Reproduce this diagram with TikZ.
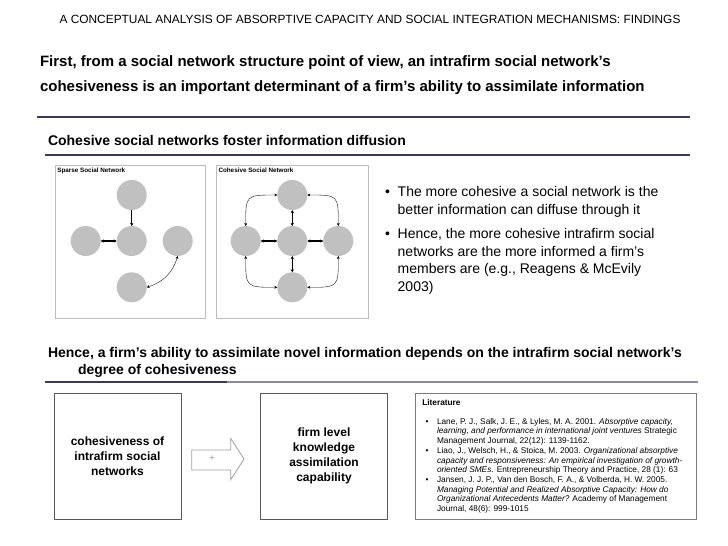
\documentclass[tikz,border=0pt]{standalone}
\usepackage{fontspec}
\setmainfont{Liberation Sans}
\usetikzlibrary{arrows.meta}
\definecolor{navy}{HTML}{3A3A5C}
\definecolor{navylight}{HTML}{8C8CA4}
\definecolor{circgray}{HTML}{C0C0C0}
\definecolor{panelgray}{HTML}{BDBDBD}
\definecolor{boxgray}{HTML}{5A5A5A}
\definecolor{litgray}{HTML}{7A7A7A}
\definecolor{arrgray}{HTML}{A0A0A0}
\newcommand{\myfs}[2]{\fontsize{#1}{#2}\selectfont}
\begin{document}
\begin{tikzpicture}[x=1pt,y=-1pt,
  every node/.style={inner sep=0pt, outer sep=0pt},
  txt/.style={anchor=base west},
  circ/.style={circle, fill=circgray, minimum size=30pt},
  panel/.style={draw=panelgray, line width=0.8pt},
  thickarr/.style={line width=1.1pt, {Stealth[length=3pt,width=3.2pt]}-{Stealth[length=3pt,width=3.2pt]}},
  thickone/.style={line width=1.1pt, -{Stealth[length=3pt,width=3.2pt]}},
  thinarr/.style={line width=0.35pt, {Stealth[length=3pt,width=2.8pt]}-{Stealth[length=3pt,width=2.8pt]}},
  bigbox/.style={draw=boxgray, line width=0.9pt, minimum height=126pt, align=center, font=\myfs{12}{15}\bfseries},
  littxt/.style={anchor=base west, font=\myfs{8.3}{9.7}},
  bul/.style={anchor=base west, font=\myfs{14}{17.5}},
  lbul/.style={anchor=base west, font=\myfs{8.3}{9.7}}
]
\fill[white] (0,0) rectangle (728,546);
\useasboundingbox (0,0) rectangle (728,546);

% title
\node[anchor=base] (title) at (370,23.5) {\myfs{11.9}{13}A CONCEPTUAL ANALYSIS OF ABSORPTIVE CAPACITY AND SOCIAL INTEGRATION MECHANISMS: FINDINGS};

% heading
\node[txt] (h1a) at (40,66.5) {\myfs{15}{18}\bfseries First, from a social network structure point of view, an intrafirm social network’s};
\node[txt] (h1b) at (40,91.5) {\myfs{15}{18}\bfseries cohesiveness is an important determinant of a firm’s ability to assimilate information};
\draw[navy, line width=2.6pt] (37,117) -- (690,117);

\node[txt] (h2) at (48,145) {\myfs{14}{17}\bfseries Cohesive social networks foster information diffusion};
\draw[navy, line width=1.3pt] (45,155) -- (690,155);

% panels
\draw[panel] (55,165) rectangle (205,318);
\draw[panel] (216.7,165) rectangle (368,318);
\node[txt] (sparselab) at (57.3,172.3) {\myfs{6.3}{7}\bfseries Sparse Social Network};
\node[txt] (cohlab) at (218.5,172.3) {\myfs{6.3}{7}\bfseries Cohesive Social Network};

% sparse network
\node[circ] (st) at (131.7,195) {};
\node[circ] (sl) at (85.7,241) {};
\node[circ] (sc) at (131.7,241) {};
\node[circ] (sr) at (177.7,241) {};
\node[circ] (sb) at (131.7,287.3) {};
\draw[thickone] (st) -- (sc);
\draw[thickarr] (sl) -- (sc);
\draw[thinarr] (sr.south) to[bend left=28] (sb.east);

% cohesive network
\node[circ] (ct) at (292.3,195) {};
\node[circ] (cl) at (245.7,241) {};
\node[circ] (cc) at (292.3,241) {};
\node[circ] (cr) at (338.3,241) {};
\node[circ] (cb) at (292.3,287.3) {};
\draw[thickarr] (cc) -- (ct);
\draw[thickarr] (cc) -- (cb);
\draw[thickarr] (cl) -- (cc);
\draw[thickarr] (cc) -- (cr);
\draw[thinarr] (ct.west) .. controls (cl.north |- ct.west) .. (cl.north);
\draw[thinarr] (ct.east) .. controls (cr.north |- ct.east) .. (cr.north);
\draw[thinarr] (cb.west) .. controls (cl.south |- cb.west) .. (cl.south);
\draw[thinarr] (cb.east) .. controls (cr.south |- cb.east) .. (cr.south);

% bullets
\node[bul] (b1) at (385,196.7) {\textbullet};
\node[bul] (b1a) at (397.7,196.7) {The more cohesive a social network is the};
\node[bul] (b1b) at (397.7,214.4) {better information can diffuse through it};
\node[bul] (b2) at (385,238.3) {\textbullet};
\node[bul] (b2a) at (397.7,238.3) {Hence, the more cohesive intrafirm social};
\node[bul] (b2b) at (397.7,256) {networks are the more informed a firm’s};
\node[bul] (b2c) at (397.7,273.7) {members are (e.g., Reagens \& McEvily};
\node[bul] (b2d) at (397.7,291.4) {2003)};

% second heading
\node[txt] (h3a) at (48,357) {\myfs{14}{17}\bfseries Hence, a firm’s ability to assimilate novel information depends on the intrafirm social network’s};
\node[txt] (h3b) at (78,374.3) {\myfs{14}{17}\bfseries degree of cohesiveness};
\draw[navylight, line width=1.3pt] (227,382) -- (698,382);
\draw[navy, line width=1.3pt] (45,382) -- (227,382);

% bottom boxes
\node[bigbox, minimum width=127pt] (coh) at (117.5,456) {cohesiveness of\\intrafirm social\\networks};
\node[bigbox, minimum width=126.6pt] (firm) at (324,456) {firm level\\knowledge\\assimilation\\capability};
\draw[arrgray, fill=white, line width=0.8pt] (191.7,450) -- (230.7,450) -- (230.7,438.3) -- (244,459) -- (230.7,479.7) -- (230.7,470) -- (191.7,470) -- cycle;
\node (plus) at (212,459) {\myfs{10}{12}\color{arrgray}+};

% literature
\node[draw=litgray, line width=0.9pt, minimum width=280.8pt, minimum height=126pt] (lit) at (556.1,456) {};
\node[littxt] (lith) at (422.3,405) {\bfseries Literature};
\node[lbul] (l1b) at (425.7,424.2) {\textbullet};
\node[littxt] (l1) at (437,424.2) {Lane, P. J., Salk, J. E., \& Lyles, M. A. 2001. \textit{Absorptive capacity,}};
\node[littxt] (l2) at (437,433.9) {\textit{learning, and performance in international joint ventures} Strategic};
\node[littxt] (l3) at (437,443.6) {Management Journal, 22(12): 1139-1162.};
\node[lbul] (l4b) at (425.7,453.3) {\textbullet};
\node[littxt] (l4) at (437,453.3) {Liao, J., Welsch, H., \& Stoica, M. 2003. \textit{Organizational absorptive}};
\node[littxt] (l5) at (437,463) {\textit{capacity and responsiveness: An empirical investigation of growth-}};
\node[littxt] (l6) at (437,472.7) {\textit{oriented SMEs}. Entrepreneurship Theory and Practice, 28 (1): 63};
\node[lbul] (l7b) at (425.7,482.4) {\textbullet};
\node[littxt] (l7) at (437,482.4) {Jansen, J. J. P., Van den Bosch, F. A., \& Volberda, H. W. 2005.};
\node[littxt] (l8) at (437,492.1) {\textit{Managing Potential and Realized Absorptive Capacity: How do}};
\node[littxt] (l9) at (437,501.8) {\textit{Organizational Antecedents Matter?} Academy of Management};
\node[littxt] (l10) at (437,511.5) {Journal, 48(6): 999-1015};
\end{tikzpicture}
\end{document}
